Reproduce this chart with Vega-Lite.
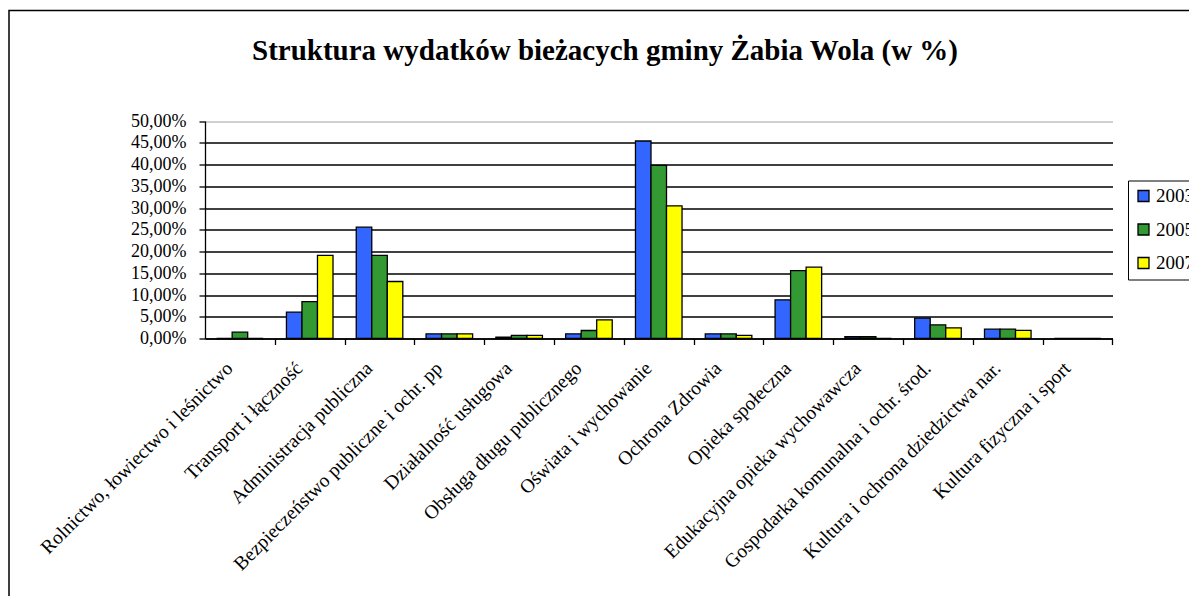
{
  "$schema": "https://vega.github.io/schema/vega-lite/v6.json",
  "width": 1192,
  "height": 600,
  "autosize": {"type": "none"},
  "padding": {"left": 9, "top": 10.5, "right": 0, "bottom": 0},
  "background": "white",
  "title": {
    "text": "Struktura wydatków bieżacych gminy Żabia Wola (w %)",
    "font": "Liberation Serif",
    "fontSize": 29,
    "fontWeight": "bold",
    "color": "black",
    "anchor": "middle",
    "frame": "group",
    "orient": "top",
    "offset": -55
  },
  "config": {
    "view": {"stroke": "black", "strokeWidth": 1.5}
  },
  "data": {
    "values": [
      {"cat": "Rolnictwo, łowiectwo i leśnictwo", "year": "2003", "value": 0},
      {"cat": "Rolnictwo, łowiectwo i leśnictwo", "year": "2005", "value": 1.45},
      {"cat": "Rolnictwo, łowiectwo i leśnictwo", "year": "2007", "value": 0},
      {"cat": "Transport i łączność", "year": "2003", "value": 6.05},
      {"cat": "Transport i łączność", "year": "2005", "value": 8.5},
      {"cat": "Transport i łączność", "year": "2007", "value": 19.1},
      {"cat": "Administracja publiczna", "year": "2003", "value": 25.6},
      {"cat": "Administracja publiczna", "year": "2005", "value": 19.1},
      {"cat": "Administracja publiczna", "year": "2007", "value": 13.1},
      {"cat": "Bezpieczeństwo publiczne i ochr. pp", "year": "2003", "value": 1.07},
      {"cat": "Bezpieczeństwo publiczne i ochr. pp", "year": "2005", "value": 1.07},
      {"cat": "Bezpieczeństwo publiczne i ochr. pp", "year": "2007", "value": 1.07},
      {"cat": "Działalność usługowa", "year": "2003", "value": 0.3},
      {"cat": "Działalność usługowa", "year": "2005", "value": 0.7},
      {"cat": "Działalność usługowa", "year": "2007", "value": 0.7},
      {"cat": "Obsługa długu publicznego", "year": "2003", "value": 1.07},
      {"cat": "Obsługa długu publicznego", "year": "2005", "value": 1.84},
      {"cat": "Obsługa długu publicznego", "year": "2007", "value": 4.3},
      {"cat": "Oświata i wychowanie", "year": "2003", "value": 45.4},
      {"cat": "Oświata i wychowanie", "year": "2005", "value": 39.8},
      {"cat": "Oświata i wychowanie", "year": "2007", "value": 30.5},
      {"cat": "Ochrona Zdrowia", "year": "2003", "value": 1.07},
      {"cat": "Ochrona Zdrowia", "year": "2005", "value": 1.07},
      {"cat": "Ochrona Zdrowia", "year": "2007", "value": 0.7},
      {"cat": "Opieka społeczna", "year": "2003", "value": 8.9},
      {"cat": "Opieka społeczna", "year": "2005", "value": 15.6},
      {"cat": "Opieka społeczna", "year": "2007", "value": 16.4},
      {"cat": "Edukacyjna opieka wychowawcza", "year": "2003", "value": 0.4},
      {"cat": "Edukacyjna opieka wychowawcza", "year": "2005", "value": 0.4},
      {"cat": "Edukacyjna opieka wychowawcza", "year": "2007", "value": 0},
      {"cat": "Gospodarka  komunalna i ochr. środ.", "year": "2003", "value": 4.7},
      {"cat": "Gospodarka  komunalna i ochr. środ.", "year": "2005", "value": 3.15},
      {"cat": "Gospodarka  komunalna i ochr. środ.", "year": "2007", "value": 2.45},
      {"cat": "Kultura i ochrona dziedzictwa nar.", "year": "2003", "value": 2.15},
      {"cat": "Kultura i ochrona dziedzictwa nar.", "year": "2005", "value": 2.15},
      {"cat": "Kultura i ochrona dziedzictwa nar.", "year": "2007", "value": 1.85},
      {"cat": "Kultura fizyczna i sport", "year": "2003", "value": 0},
      {"cat": "Kultura fizyczna i sport", "year": "2005", "value": 0},
      {"cat": "Kultura fizyczna i sport", "year": "2007", "value": 0}
    ]
  },
  "mark": {"type": "bar", "stroke": "black", "strokeWidth": 1.3},
  "encoding": {
    "x": {
      "field": "cat",
      "type": "nominal",
      "sort": null,
      "scale": {"range": [196, 1103.5], "paddingInner": 0.333, "paddingOuter": 0.1667},
      "axis": {
        "title": null,
        "orient": "bottom",
        "offset": -272,
        "labelAngle": -45,
        "tickOffset": 34.9,
        "labelOffset": -52,
        "tickSize": 6,
        "tickColor": "black",
        "tickWidth": 1.3,
        "domainColor": "black",
        "domainWidth": 1.3,
        "labelFont": "Liberation Serif",
        "labelFontSize": 19.5,
        "labelColor": "black",
        "labelPadding": 14,
        "labelLimit": 0,
        "grid": false
      }
    },
    "xOffset": {"field": "year", "type": "nominal"},
    "y": {
      "field": "value",
      "type": "quantitative",
      "scale": {"domain": [0, 50], "range": [328, 110.5], "nice": false},
      "axis": {
        "title": null,
        "offset": -196,
        "values": [0, 5, 10, 15, 20, 25, 30, 35, 40, 45, 50],
        "labelExpr": "replace(format(datum.value, '.2f'), '.', ',') + '%'",
        "tickSize": 6,
        "tickColor": "black",
        "tickWidth": 1.3,
        "domainColor": "black",
        "domainWidth": 1.3,
        "labelFont": "Liberation Serif",
        "labelFontSize": 18,
        "labelColor": "black",
        "labelPadding": 13,
        "grid": true,
        "gridColor": {"condition": {"test": "datum.value === 50", "value": "#c0c0c0"}, "value": "black"},
        "gridWidth": 1.5,
        "gridOpacity": 1
      }
    },
    "color": {
      "field": "year",
      "type": "nominal",
      "scale": {"range": ["#3366FF", "#339933", "#FFFF00"]},
      "legend": {
        "title": null,
        "orient": "none",
        "legendX": 1119,
        "legendY": 170,
        "strokeColor": "black",
        "fillColor": "white",
        "padding": 6,
        "symbolType": "square",
        "symbolSize": 121,
        "symbolStrokeColor": "black",
        "symbolStrokeWidth": 1.3,
        "symbolOpacity": 1,
        "labelFont": "Liberation Serif",
        "labelFontSize": 19,
        "labelColor": "black",
        "labelOffset": 3,
        "rowPadding": 13.5
      }
    }
  }
}
